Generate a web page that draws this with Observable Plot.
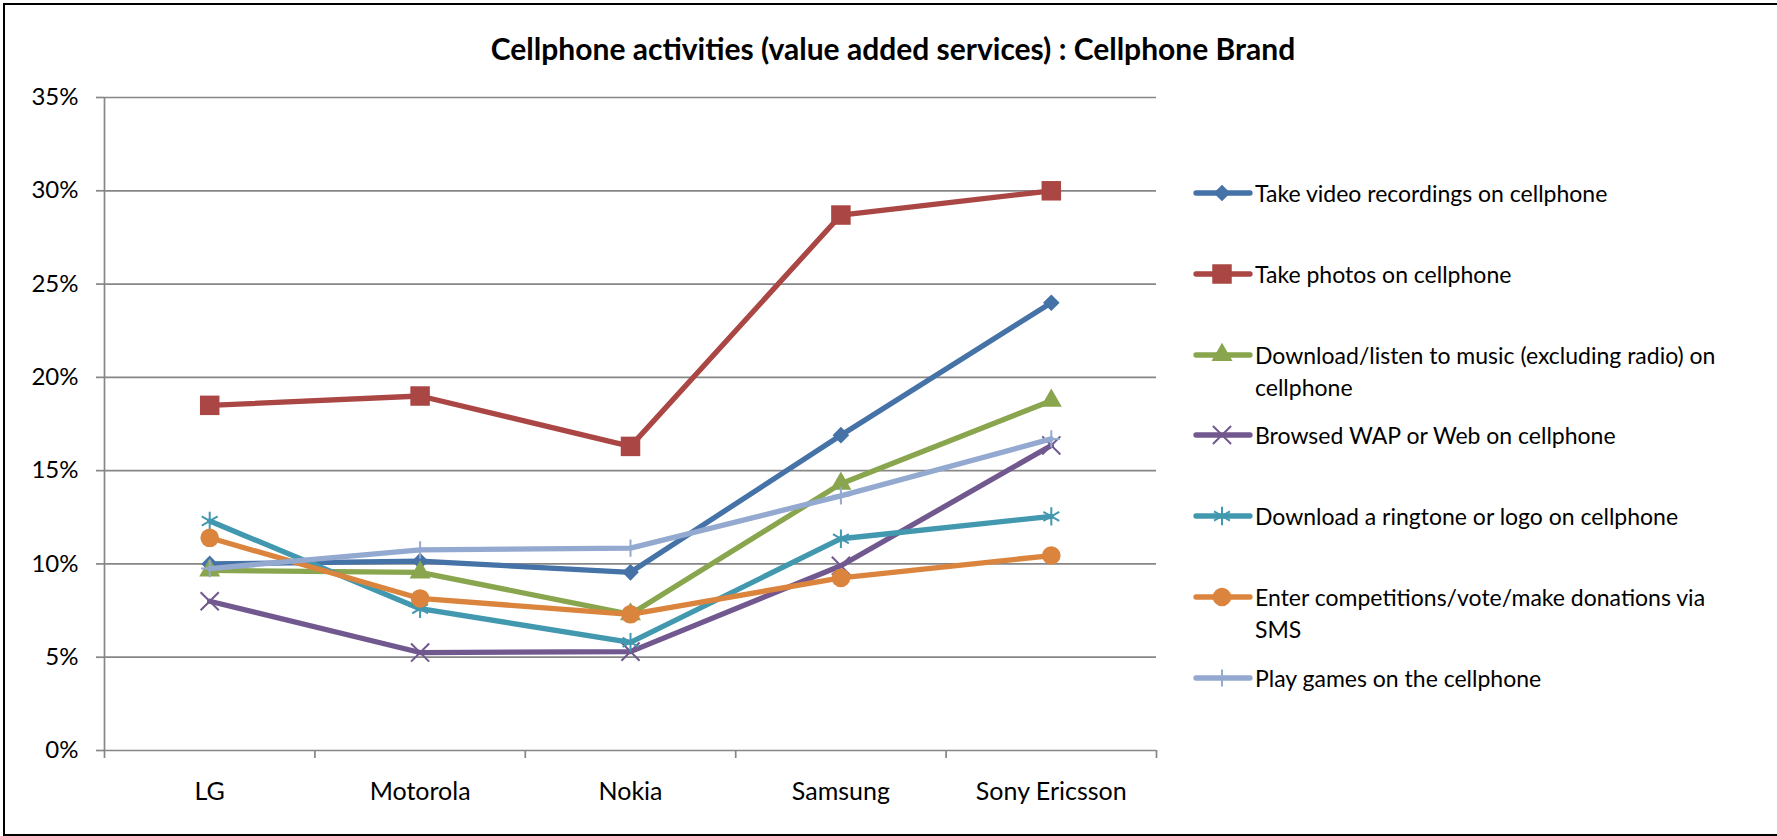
<!DOCTYPE html>
<html>
<head>
<meta charset="utf-8">
<script src="https://cdn.jsdelivr.net/npm/d3@7"></script>
<script src="https://cdn.jsdelivr.net/npm/@observablehq/plot@0.6"></script>
<style>
  html, body { margin: 0; padding: 0; background: #fff; overflow: hidden; }
  #wrap { position: relative; width: 1777px; height: 836px; overflow: hidden; font-family: Lato, "Open Sans", sans-serif; }
  #frame { position: absolute; left: 3px; top: 3px; width: 1790px; height: 829px; border: 2px solid #000; box-sizing: content-box; }
  #title { position: absolute; left: 393px; width: 1000px; top: 28px; text-align: center; font-weight: bold; font-size: 30px; line-height: 40px; color: #000; }
  #chart { position: absolute; left: 0; top: 0; }
  .leg { position: absolute; left: 1193px; height: 32px; }
  .leg svg { position: absolute; left: 0; top: 0; }
  .leg span { position: absolute; left: 62px; top: 0; width: 480px; font-size: 23px; line-height: 32px; color: #000; }
</style>
</head>
<body>
<div id="wrap">
  <div id="frame"></div>
  <div id="chart"></div>
  <div id="title">Cellphone activities (value added services) : Cellphone Brand</div>
  <div id="legend"></div>
</div>
<script>
// ---- data ----
const brands = ["LG", "Motorola", "Nokia", "Samsung", "Sony Ericsson"];
const seriesNames = [
  "Take video recordings on cellphone",
  "Take photos on cellphone",
  "Download/listen to music (excluding radio) on cellphone",
  "Browsed WAP or Web on cellphone",
  "Download a ringtone or logo on cellphone",
  "Enter competitions/vote/make donations via SMS",
  "Play games on the cellphone"
];
const videoValues    = [10.0, 10.15, 9.55, 16.9, 24.0];
const photosValues   = [18.5, 19.0, 16.3, 28.7, 30.0];
const musicValues    = [9.65, 9.55, 7.3, 14.3, 18.75];
const wapValues      = [8.0, 5.25, 5.3, 9.9, 16.35];
const ringtoneValues = [12.3, 7.6, 5.8, 11.35, 12.55];
const smsValues      = [11.4, 8.15, 7.3, 9.25, 10.45];
const gamesValues    = [9.75, 10.75, 10.85, 13.65, 16.7];
const yTicks = [0, 5, 10, 15, 20, 25, 30, 35];

// ---- styles ----
const seriesValues = [videoValues, photosValues, musicValues, wapValues, ringtoneValues, smsValues, gamesValues];
const colors = ["#4572A7", "#AA4643", "#89A54E", "#71588F", "#4198AF", "#DB843D", "#93A9CF"];
const symbols = ["diamond2", "square", "triangle", "times", "asterisk", "circle", "plus"];
const filled = [true, true, true, false, false, true, false];
const radii = [7.5, 11, 7.8, 8.3, 8.7, 9.3, 5.6];
const gray = "#868686";

const rows = seriesNames.flatMap((s, si) =>
  brands.map((b, bi) => ({series: s, si, brand: b, bi, value: seriesValues[si][bi]})));

const seriesMarks = seriesNames.flatMap((s, si) => {
  const data = rows.filter(d => d.si === si);
  const dotOpts = {x: d => d.bi + 0.5, y: "value", symbol: symbols[si], r: radii[si]};
  if (filled[si]) { dotOpts.fill = colors[si]; dotOpts.stroke = "none"; }
  else { dotOpts.fill = "none"; dotOpts.stroke = colors[si]; dotOpts.strokeWidth = 2; }
  return [
    Plot.line(data, {x: d => d.bi + 0.5, y: "value", stroke: colors[si], strokeWidth: 5.3, strokeLinejoin: "round", strokeLinecap: "round"}),
    Plot.dot(data, dotOpts)
  ];
});

const chart = Plot.plot({
  width: 1777,
  height: 836,
  marginLeft: 104,
  marginRight: 621,
  marginTop: 97,
  marginBottom: 86,
  style: {fontFamily: "Lato, 'Open Sans', sans-serif", fontSize: "24px", color: "#000", background: "transparent", overflow: "visible"},
  x: {type: "linear", domain: [0, brands.length], label: null},
  y: {type: "linear", domain: [0, 35], label: null},
  marks: [
    Plot.ruleY(yTicks, {y: d => d, stroke: gray, strokeWidth: 1.7}),
    Plot.ruleX([0], {x: d => d, stroke: gray, strokeWidth: 1.7}),
    Plot.axisY({ticks: yTicks, tickSize: 8, tickPadding: 18, tickFormat: d => d + "%", stroke: gray, strokeWidth: 1.7, strokeOpacity: 1, fill: "#000", label: null, fontSize: 24}),
    Plot.axisX({ticks: d3.range(0, brands.length + 1), tickSize: 8, tickFormat: () => "", stroke: gray, strokeWidth: 1.7, strokeOpacity: 1, label: null}),
    Plot.text(brands, {x: (d, i) => i + 0.5, text: d => d, frameAnchor: "bottom", dy: 41, fontSize: 25, fill: "#000", lineAnchor: "middle"}),
    ...seriesMarks
  ]
});
document.getElementById("chart").appendChild(chart);

// ---- legend ----
const legend = document.getElementById("legend");
const symMap = {diamond2: d3.symbolDiamond2, square: d3.symbolSquare, triangle: d3.symbolTriangle, times: d3.symbolTimes, asterisk: d3.symbolAsterisk, circle: d3.symbolCircle, plus: d3.symbolPlus};
seriesNames.forEach((s, si) => {
  const row = document.createElement("div");
  row.className = "leg";
  row.style.top = (193 + si * 80.8 - 16) + "px";
  const svg = d3.create("svg").attr("width", 62).attr("height", 32);
  svg.append("line").attr("x1", 3).attr("x2", 57).attr("y1", 16).attr("y2", 16)
    .attr("stroke", colors[si]).attr("stroke-width", 5.3).attr("stroke-linecap", "round");
  const path = d3.symbol(symMap[symbols[si]], Math.PI * radii[si] * radii[si])();
  const p = svg.append("path").attr("d", path).attr("transform", "translate(29,16)");
  if (filled[si]) p.attr("fill", colors[si]);
  else p.attr("fill", "none").attr("stroke", colors[si]).attr("stroke-width", 2);
  row.appendChild(svg.node());
  const span = document.createElement("span");
  span.textContent = s;
  row.appendChild(span);
  legend.appendChild(row);
});
</script>
</body>
</html>
